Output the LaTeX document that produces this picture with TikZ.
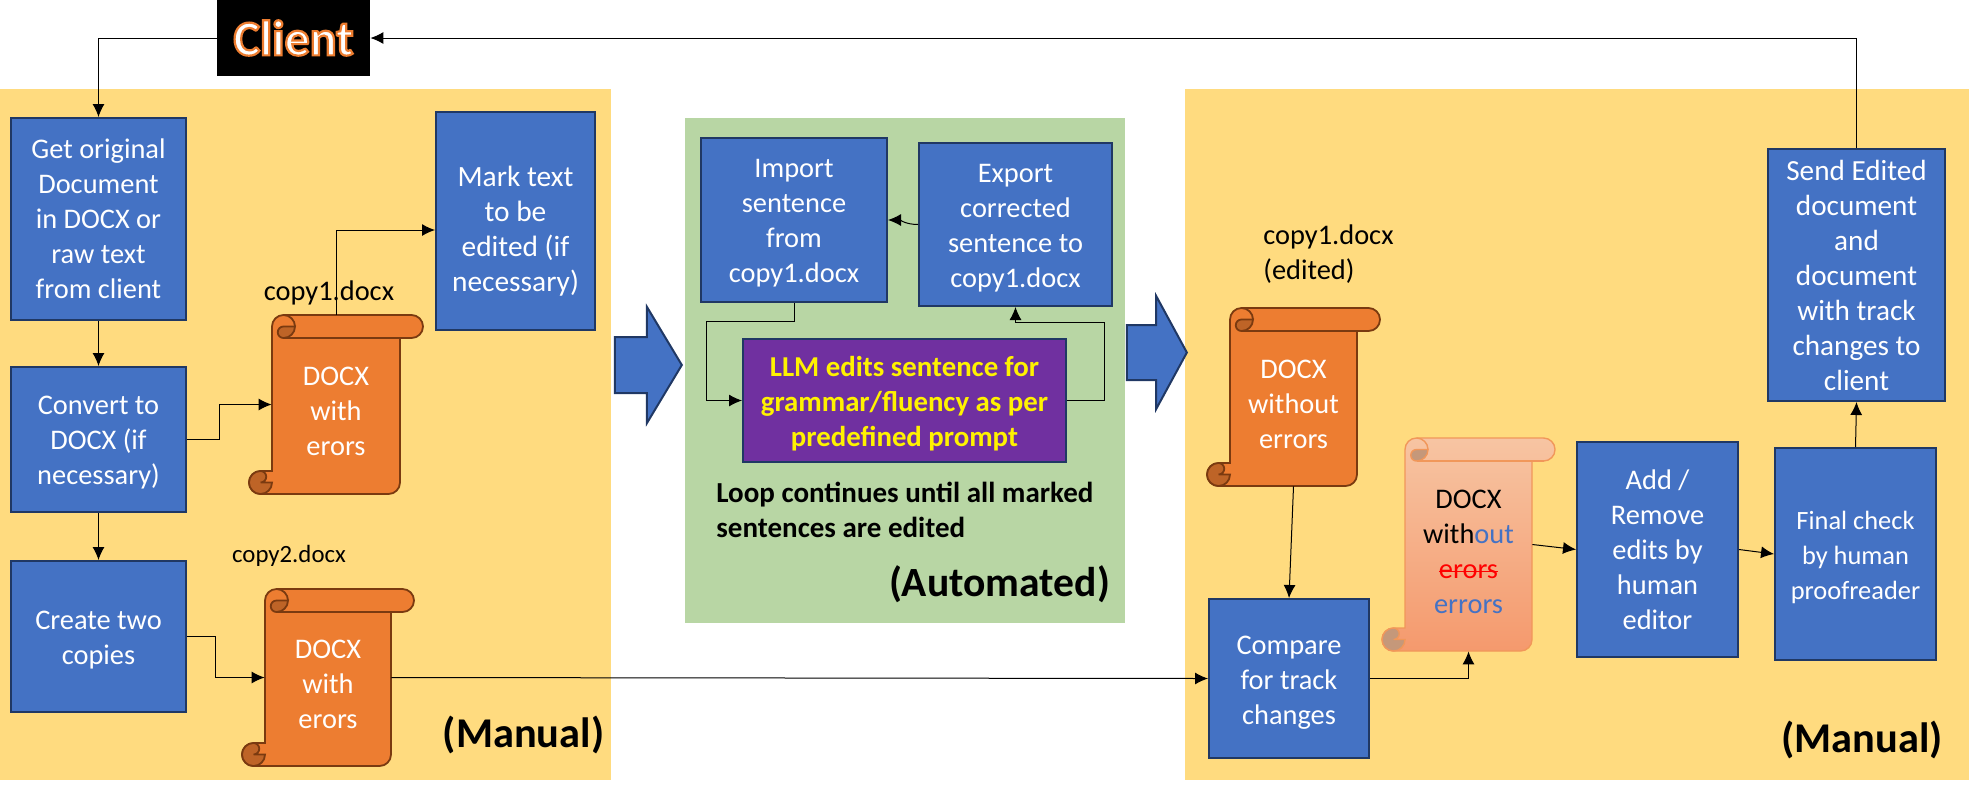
\documentclass[tikz,border=0pt]{standalone}
\usepackage{fontspec}
\setmainfont{Carlito}
\usetikzlibrary{arrows.meta,calc,shapes.arrows}
\definecolor{DocBlue}{HTML}{4472C4}
\definecolor{DocNavy}{HTML}{203864}
\definecolor{DocOrange}{HTML}{ED7D31}
\definecolor{DocBrown}{HTML}{7A3A10}
\definecolor{DocPurple}{HTML}{7030A0}
\definecolor{PanelYellow}{HTML}{FFDB7F}
\definecolor{PanelGreen}{HTML}{B8D6A4}
\newsavebox{\wordbox}
\newcommand{\strikeword}[1]{\sbox{\wordbox}{#1}\rlap{\rule[0.2em]{\wd\wordbox}{0.8pt}}\usebox{\wordbox}}
\newcommand{\ringword}[1]{\special{pdf:code q 2 Tr 1.1 w 0.93 0.49 0.19 RG}#1\special{pdf:code Q}}
\newcommand{\topdrop}[1]{\rule{0pt}{#1}}
\tikzset{
  stepbox/.style={draw=DocNavy, line width=1pt, fill=DocBlue, text=white, align=center, inner sep=0pt, font=\fontsize{14.2}{17.5}\selectfont},
  llmbox/.style={stepbox, fill=DocPurple, text=yellow, font=\fontsize{14.4}{17.5}\selectfont\bfseries},
  plaintext/.style={inner sep=0pt, align=left, font=\fontsize{14.2}{17.5}\selectfont},
  bigtext/.style={inner sep=0pt, font=\fontsize{21.2}{24}\selectfont\bfseries},
  blockarrow/.style={shape=single arrow, draw=DocNavy, line width=1pt, fill=DocBlue, inner xsep=0pt, anchor=tip},
  link/.style={-{Latex[length=6.5pt,width=6pt]}, line width=0.5pt, black},
  scrollsolid/.style={draw=DocBrown, line width=0.9pt, fill=DocOrange},
  scrollpale/.style={draw=DocOrange!80!white, line width=0.7pt, top color=DocOrange!45!white, bottom color=DocOrange!65!white!90!red},
  foldsolid/.style={draw=DocBrown, line width=0.9pt, fill=DocOrange!80!black},
  foldpale/.style={draw=DocOrange!80!white, line width=0.7pt, fill=DocOrange!50!gray!80!white},
  textsolid/.style={text=white},
  textpale/.style={text=black},
  docxtext/.style={inner sep=0pt, align=center, font=\fontsize{14.2}{17.5}\selectfont},
}
% name, left, top, width, height, look, text
\newcommand{\docscroll}[7]{
  \begin{scope}[shift={(#2,#3)}]
    \def\rr{11.5}
    \def\ww{#4}
    \def\hh{#5}
    \path[scroll#6] (2*\rr,\rr) arc[start angle=180, end angle=270, radius=\rr] -- (\ww-\rr,0)
      arc[start angle=270, end angle=450, radius=\rr] -- (\ww-2*\rr,2*\rr) -- (\ww-2*\rr,\hh-\rr)
      arc[start angle=0, end angle=90, radius=\rr] -- (\rr,\hh)
      arc[start angle=90, end angle=270, radius=\rr] -- (2*\rr,\hh-2*\rr) -- cycle;
    \path[fold#6] (3*\rr,\rr) -- (4*\rr,\rr) arc[start angle=0, end angle=90, radius=\rr]
      arc[start angle=90, end angle=270, radius=\rr/2] -- cycle;
    \path[fold#6] (\rr,\hh-\rr) -- (2*\rr,\hh-\rr) arc[start angle=0, end angle=270, radius=\rr]
      arc[start angle=270, end angle=450, radius=\rr/2];
    \path[fold#6, fill=none] (3*\rr,0) arc[start angle=270, end angle=360, radius=\rr];
    \path[fold#6, fill=none] (3*\rr,2*\rr) -- (\ww-\rr,2*\rr);
    \node[inner sep=0pt, minimum width={(\ww-4*\rr)*0.5pt}, minimum height={\hh*0.5pt}] (#1) at (\ww/2,\hh/2) {};
    \node[docxtext, text#6] (#1text) at (\ww/2,\hh/2+7) {#7};
  \end{scope}
}

\begin{document}
\begin{tikzpicture}[x=0.5pt, y=-0.5pt]
    \useasboundingbox (0,0) rectangle (1969,789);
    % Panels
    \fill[PanelYellow] (0,89) rectangle (611,780);
    \fill[PanelGreen] (685,118) rectangle (1125,623);
    \fill[PanelYellow] (1185,89) rectangle (1969,780);

    % Nodes
    \node [fill=black, inner sep=0pt, minimum width=76.5pt, minimum height=38pt, text=white, font=\fontsize{25}{28}\selectfont\bfseries] (client) at (293.5,38) {\ringword{Client}};

    \node [stepbox, minimum width=87.5pt, minimum height=101pt] (getorig) at (98.5,219) {Get original\\Document\\in DOCX or\\raw text\\from client};
    \node [stepbox, minimum width=79.5pt, minimum height=109pt, font=\fontsize{14.7}{17.5}\selectfont] (markedit) at (515.5,221) {\topdrop{20pt}Mark text\\to be\\edited (if\\necessary)};
    \node [stepbox, minimum width=87.5pt, minimum height=72.5pt] (convert) at (98.5,439.5) {\topdrop{12.5pt}Convert to\\DOCX (if\\necessary)};
    \node [stepbox, minimum width=87.5pt, minimum height=75.5pt] (createtwo) at (98.5,636.5) {\topdrop{12.5pt}Create two\\copies};

    \node [stepbox, minimum width=93pt, minimum height=82pt] (importsent) at (794,220) {\topdrop{12.5pt}Import\\sentence\\from\\copy1.docx};
    \node [stepbox, minimum width=96.5pt, minimum height=81.5pt] (exportsent) at (1015.5,224.5) {\topdrop{13pt}Export\\corrected\\sentence to\\copy1.docx};
    \node [llmbox, minimum width=161.5pt, minimum height=61.5pt] (llmedit) at (904.5,400.5) {\topdrop{13pt}LLM edits sentence for\\grammar/fluency as per\\predefined prompt};

    \node [stepbox, minimum width=80pt, minimum height=79.5pt] (compare) at (1289,678.5) {\topdrop{13pt}Compare\\for track\\changes};
    \node [stepbox, minimum width=80.5pt, minimum height=107.5pt] (addedits) at (1657.5,549.5) {Add /\\Remove\\edits by\\human\\editor};
    \node [stepbox, minimum width=80.5pt, minimum height=106pt, font=\fontsize{13.2}{17.5}\selectfont] (finalcheck) at (1855.5,554) {\topdrop{12.5pt}Final check\\by human\\proofreader};
    \node [stepbox, minimum width=88.5pt, minimum height=126pt, font=\fontsize{14.6}{17.5}\selectfont] (sendout) at (1856.5,275) {Send Edited\\document\\and\\document\\with track\\changes to\\client};

    \docscroll{scrollA}{249}{315}{174}{179}{solid}{DOCX\\with\\erors}
    \docscroll{scrollB}{242}{589}{172}{177}{solid}{DOCX\\with\\erors}
    \docscroll{scrollC}{1207}{308}{173}{178}{solid}{DOCX\\without\\errors}
    \docscroll{scrollD}{1382}{438}{173}{213}{pale}{DOCX\\with\textcolor{DocBlue}{out}\\\textcolor{red}{\strikeword{erors}}\\\textcolor{DocBlue}{errors}}

    \node [plaintext] (labelA) at (329,293) {copy1.docx};
    \node [plaintext, font=\fontsize{12.4}{15}\selectfont] (labelB) at (289,556) {copy2.docx};
    \node [plaintext, anchor=west] (labelC) at (1263,254) {copy1.docx\\(edited)};
    \node [plaintext, anchor=west, font=\fontsize{14.5}{17.5}\selectfont\bfseries] (loopnote) at (716,510) {Loop continues until all marked\\sentences are edited};
    \node [bigtext, font=\fontsize{20.8}{24}\selectfont\bfseries] (autotag) at (999.5,584) {(Automated)};
    \node [bigtext] (manualA) at (523.5,735) {(Manual)};
    \node [bigtext] (manualB) at (1862,740) {(Manual)};

    \node [blockarrow, inner ysep=13.5pt, minimum height=33.5pt, single arrow head extend=15pt, single arrow tip angle=118] (arrowin) at (683,365) {};
    \node [blockarrow, inner ysep=13.25pt, minimum height=30pt, single arrow head extend=14.5pt, single arrow tip angle=123] (arrowout) at (1188,352.5) {};

    % Paths
    \draw[link] (client.west) -| (getorig.north);
    \draw[link] (getorig.south) -- (convert.north);
    \draw[link] (convert.south) -- (createtwo.north);
    \draw[link] (convert.east) -- ++(32,0) |- (scrollA.west);
    \draw[link] (scrollA.north) |- ([yshift=-4.5pt]markedit.west);
    \draw[link] (createtwo.east) -- ++(28,0) |- (scrollB.west);
    \draw[link] (scrollB.east) -- (compare.west);
    \draw[link] (importsent.south) -- ++(0,18) -- ++(-88,0) |- (llmedit.west);
    \draw[link] (llmedit.east) -- ++(37,0) -- ++(0,-78) -| (exportsent.south);
    \draw[link] (exportsent.west) to[out=180, in=0] (importsent.east);
    \draw[link] (scrollC.south) -- (compare.north);
    \draw[link] (compare.east) -| (scrollD.south);
    \draw[link] (scrollD.east) -- (addedits.west);
    \draw[link] (addedits.east) -- (finalcheck.west);
    \draw[link] (finalcheck.north) -- (sendout.south);
    \draw[link] (sendout.north) |- (client.east);
\end{tikzpicture}
\end{document}
